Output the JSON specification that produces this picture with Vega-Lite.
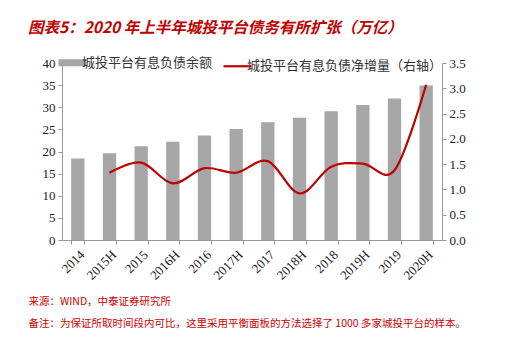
{
  "$schema": "https://vega.github.io/schema/vega-lite/v6.json",
  "width": 380,
  "height": 177,
  "autosize": {"type": "none"},
  "padding": {"left": 62, "top": 63, "right": 68, "bottom": 103},
  "background": "white",
  "title": {
    "text": "图表5：2020 年上半年城投平台债务有所扩张（万亿）",
    "anchor": "start",
    "frame": "group",
    "dx": -34,
    "offset": 20,
    "font": "Noto Sans CJK SC",
    "fontSize": 15.5,
    "fontWeight": "bold",
    "fontStyle": "italic",
    "color": "#c00000"
  },
  "config": {
    "view": {"stroke": null},
    "axis": {"grid": false, "labelFont": "Liberation Serif", "labelColor": "#222", "domainColor": "#999", "tickColor": "#999", "tickSize": 4}
  },
  "data": {
    "values": [
      {"cat": "2014", "bal": 18.4, "inc": null},
      {"cat": "2015H", "bal": 19.6, "inc": 1.33},
      {"cat": "2015", "bal": 21.2, "inc": 1.53},
      {"cat": "2016H", "bal": 22.2, "inc": 1.12},
      {"cat": "2016", "bal": 23.6, "inc": 1.42},
      {"cat": "2017H", "bal": 25.1, "inc": 1.33},
      {"cat": "2017", "bal": 26.6, "inc": 1.56},
      {"cat": "2018H", "bal": 27.6, "inc": 0.92},
      {"cat": "2018", "bal": 29.1, "inc": 1.45},
      {"cat": "2019H", "bal": 30.5, "inc": 1.51},
      {"cat": "2019", "bal": 32.0, "inc": 1.38},
      {"cat": "2020H", "bal": 34.9, "inc": 3.07}
    ]
  },
  "encoding": {
    "x": {
      "field": "cat", "type": "nominal", "sort": null,
      "scale": {"paddingInner": 0.58, "paddingOuter": 0.29},
      "axis": {
        "labelAngle": -45, "labelFontSize": 13, "tickBand": "extent", "labelPadding": 4,
        "title": ["来源：WIND，中泰证券研究所", "备注：为保证所取时间段内可比，这里采用平衡面板的方法选择了 1000 多家城投平台的样本。"],
        "titleFont": "Noto Sans CJK SC", "titleFontSize": 10.5, "titleFontWeight": "normal", "titleColor": "#d00000",
        "titleAlign": "left", "titleAnchor": "start", "titleAngle": 0, "titleBaseline": "middle",
        "titleX": -34, "titleY": 61, "titleLineHeight": 22
      }
    }
  },
  "layer": [
    {
      "mark": {"type": "bar", "color": "#a6a6a6"},
      "encoding": {
        "y": {"field": "bal", "type": "quantitative", "scale": {"domain": [0, 40]},
          "axis": {"title": null, "values": [0,5,10,15,20,25,30,35,40], "labelFontSize": 13, "labelPadding": 3}},
        "color": {"datum": "城投平台有息负债余额", "type": "nominal",
          "scale": {"domain": ["城投平台有息负债余额", "城投平台有息负债净增量（右轴）"], "range": ["#a6a6a6", "#c00000"]},
          "legend": {
            "title": null, "orient": "none", "direction": "horizontal", "legendX": 4, "legendY": -7,
            "symbolType": "stroke", "symbolSize": 784, "symbolStrokeWidth": 2,
            "labelFont": "Noto Sans CJK SC", "labelFontSize": 13, "labelColor": "#333", "labelLimit": 400, "columnPadding": 6, "labelOffset": 3,
            "encode": {"symbols": {"update": {"strokeWidth": {"signal": "datum.value == '城投平台有息负债余额' ? 7 : 2.2"}}}}
          }
        }
      }
    },
    {
      "mark": {"type": "line", "interpolate": "cardinal", "strokeWidth": 2.2},
      "encoding": {
        "y": {"field": "inc", "type": "quantitative", "scale": {"domain": [0, 3.5]},
          "axis": {"title": null, "orient": "right", "format": ".1f", "values": [0,0.5,1,1.5,2,2.5,3,3.5], "labelFontSize": 13, "labelPadding": 3}},
        "color": {"datum": "城投平台有息负债净增量（右轴）", "type": "nominal"}
      }
    }
  ],
  "resolve": {"scale": {"y": "independent"}}
}
